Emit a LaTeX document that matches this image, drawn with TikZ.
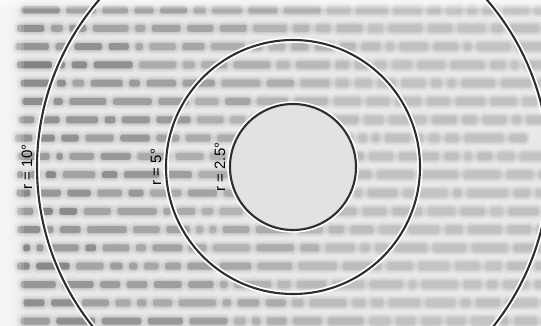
\documentclass[tikz,border=0pt]{standalone}
\usepackage{fontspec}
\setmainfont{Liberation Sans}
\definecolor{bgray}{HTML}{E8E8E8}
\definecolor{diskgray}{HTML}{E3E1E2}
\definecolor{ringcol}{HTML}{2E2E2E}
\tikzset{
  ring/.style={circle, inner sep=0pt, draw=ringcol, line width=2.1pt,
    preaction={draw=white, line width=5.5pt}},
  lbl/.style={rotate=90, anchor=south, inner sep=3.5pt, text=black,
    font=\fontsize{15}{16}\selectfont},
}
\begin{document}
\begin{tikzpicture}[x=1pt,y=-1pt]
\useasboundingbox (0,0) rectangle (541,326);
\clip (0,0) rectangle (541,326);
% page background
\fill[bgray] (0,0) rectangle (541,326);
% blurred text lines
\pgfmathsetseed{11}
\foreach \r in {0,...,17}{
  \pgfmathsetmacro\yy{10+18.3*\r}
  \pgfmathsetmacro\xs{14+10*rnd}
  \xdef\xx{\xs}
  \foreach \w in {1,...,20}{
    \pgfmathsetmacro\ww{8+34*rnd}
    \pgfmathsetmacro\op{max(0.05,0.30-0.36*\xx/541)*(0.75+0.5*rnd)}
    \fill[black,opacity=0.05,rounded corners=5pt] (\xx-3,\yy-7) rectangle ++(\ww+6,14);
    \fill[black,opacity=0.07,rounded corners=4pt] (\xx-1,\yy-5) rectangle ++(\ww+2,10);
    \fill[black,opacity=\op,rounded corners=2.5pt] (\xx+1,\yy-3.5) rectangle ++(\ww-2,7);
    \pgfmathsetmacro\nx{\xx+\ww+4.5}
    \xdef\xx{\nx}
  }
}
% light page edges (top and left)
\foreach \i in {0,...,5}{
  \fill[white,opacity=0.18] (0,0) rectangle (541,9-1.4*\i);
  \fill[white,opacity=0.16] (0,0) rectangle (24-3.5*\i,326);
}
% circles
\coordinate (o) at (293,167);
\node[ring, fill=diskgray, minimum size=126pt] (c1) at (o) {};
\node[ring, minimum size=254pt] (c2) at (o) {};
\node[ring, minimum size=512pt] (c3) at (o) {};
% labels
\node[lbl] (l3) at (c3.west) {r = 10°};
\node[lbl] (l2) at (c2.west) {r = 5°};
\node[lbl] (l1) at (c1.west) {r = 2.5°};
\end{tikzpicture}
\end{document}
